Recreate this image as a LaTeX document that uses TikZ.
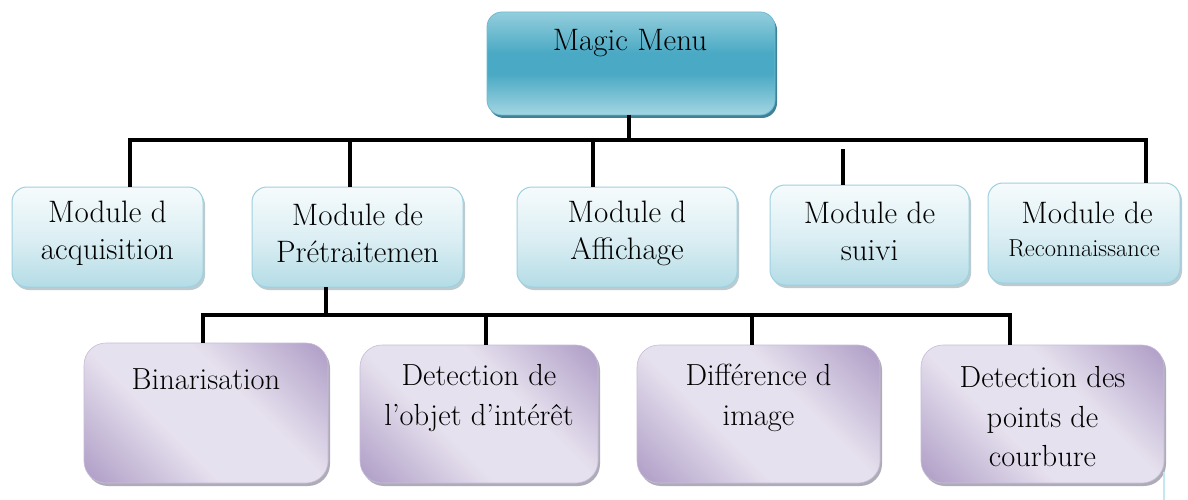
\documentclass[tikz,border=0pt]{standalone}
\usetikzlibrary{shadows}
\definecolor{tealD}{HTML}{4AA9C4}
\definecolor{tealL}{HTML}{93CEDD}
\definecolor{tealE}{HTML}{6FBBD0}
\definecolor{tealS}{HTML}{3F8296}
\definecolor{cyanTop}{HTML}{F6FBFC}
\definecolor{cyanMid}{HTML}{DDEFF4}
\definecolor{cyanBot}{HTML}{B4DCE6}
\definecolor{cyanEdge}{HTML}{9DD1E0}
\definecolor{cyanS}{HTML}{8FA9B2}
\definecolor{purD}{HTML}{B09FC7}
\definecolor{purL}{HTML}{E6E1EE}
\definecolor{purS}{HTML}{8E8A9C}
\definecolor{artefact}{HTML}{C4E8F0}
\pgfdeclareverticalshading{menushade}{100bp}{color(0bp)=(tealL!85!white); color(25bp)=(tealL!85!white); color(45bp)=(tealD); color(55bp)=(tealD); color(75bp)=(tealL); color(100bp)=(tealL)}
\pgfdeclarehorizontalshading{purband}{100bp}{color(0bp)=(purD); color(16bp)=(purD); color(40bp)=(purL); color(60bp)=(purL); color(84bp)=(purD); color(100bp)=(purD)}
\begin{document}
\begin{tikzpicture}[x=1pt,y=-1pt,
  conn/.style={line width=3.6pt, black},
  topbox/.style={rectangle, rounded corners=15pt, draw=tealE, line width=0.8pt, shading=menushade, inner sep=0pt, outer sep=0pt,
     drop shadow={shadow xshift=2pt, shadow yshift=-3pt, fill=tealS, opacity=1}},
  midbox/.style={rectangle, rounded corners=15pt, draw=cyanEdge, line width=1pt, top color=cyanTop, bottom color=cyanBot, middle color=cyanMid, inner sep=0pt, outer sep=0pt,
     drop shadow={shadow xshift=2pt, shadow yshift=-3pt, fill=cyanS, opacity=0.6}},
  lowbox/.style={rectangle, rounded corners=22pt, draw=purD!70!white, line width=0.6pt, shading=purband, shading angle=45, inner sep=0pt, outer sep=0pt,
     drop shadow={shadow xshift=2pt, shadow yshift=-3pt, fill=purS, opacity=0.7}},
  lbl/.style={font=\fontsize{31}{37}\selectfont, align=center, inner sep=0pt, text=black},
  lbl2/.style={font=\fontsize{30.5}{39.5}\selectfont, align=center, inner sep=0pt, text=black}
]
\path[use as bounding box, fill=white] (0,0) rectangle (1188,500);

% top
\node[topbox, minimum width=288pt, minimum height=103pt] (menu) at (631,63.5) {};
\node[lbl] (menut) at (630,43) {Magic Menu};

% middle row
\node[midbox, minimum width=191pt, minimum height=100pt] (acq) at (107.5,237) {};
\node[midbox, minimum width=211pt, minimum height=100pt] (pre) at (357.5,237) {};
\node[midbox, minimum width=220pt, minimum height=100pt] (aff) at (627,237) {};
\node[midbox, minimum width=199pt, minimum height=100pt] (sui) at (869.5,235) {};
\node[midbox, minimum width=192pt, minimum height=100pt] (rec) at (1084,233) {};

\node[lbl] (acqt) at (107.5,233.5) {Module d\\acquisition};
\node[lbl] (pret) at (357.5,233.5) {Module de\\Prétraitemen};
\node[lbl] (afft) at (627,233.5) {Module d\\Affichage};
\node[lbl] (suit) at (869.5,231.5) {Module de\\suivi};
\node[lbl] (rect1) at (1087,213) {Module de};
\node[inner sep=0pt, font=\fontsize{24.5}{28}\selectfont] (rect2) at (1084,248) {Reconnaissance};

% bottom row
\node[lowbox, minimum width=244pt, minimum height=140pt] (bin) at (206,413) {};
\node[lowbox, minimum width=238pt, minimum height=138pt] (det) at (479,414) {};
\node[lowbox, minimum width=243pt, minimum height=138pt] (dif) at (758.5,414) {};
\node[lowbox, minimum width=243pt, minimum height=138pt] (pts) at (1042.5,414) {};

\node[lbl2] (bint) at (206,379) {Binarisation};
\node[lbl2] (dett) at (479,398) {Detection de\\l’objet d’intérêt};
\node[lbl2] (dift) at (758.5,398) {Différence d\\image};
\node[lbl2] (ptst) at (1042.5,417) {Detection des\\points de\\courbure};

% connectors, upper tree
\coordinate (b0) at (629,140);
\coordinate (b1) at (130,140);
\coordinate (b2) at (350,140);
\coordinate (b3) at (593,140);
\coordinate (b4) at (843,149);
\coordinate (b5) at (1146,140);
\draw[conn] (b0 |- menu.south) -- (b0);
\draw[conn, line cap=rect] (b1) -- (b5);
\draw[conn] (b1) -- (b1 |- acq.north);
\draw[conn] (b2) -- (b2 |- pre.north);
\draw[conn] (b3) -- (b3 |- aff.north);
\draw[conn] (b4) -- (b4 |- sui.north);
\draw[conn] (b5) -- (b5 |- rec.north);

% connectors, lower tree
\coordinate (c0) at (326,315);
\coordinate (c1) at (203,315);
\coordinate (c2) at (486,315);
\coordinate (c3) at (752,315);
\coordinate (c4) at (1010,315);
\draw[conn] (c0 |- pre.south) -- (c0);
\draw[conn, line cap=rect] (c1) -- (c4);
\draw[conn] (c1) -- (c1 |- bin.north);
\draw[conn] (c2) -- (c2 |- det.north);
\draw[conn] (c3) -- (c3 |- dif.north);
\draw[conn] (c4) -- (c4 |- pts.north);

% faint line at the right edge
\coordinate (a0) at (1164,472);
\coordinate (a1) at (1164,500);
\draw[artefact, line width=2pt] (a0) -- (a1);
\end{tikzpicture}
\end{document}
